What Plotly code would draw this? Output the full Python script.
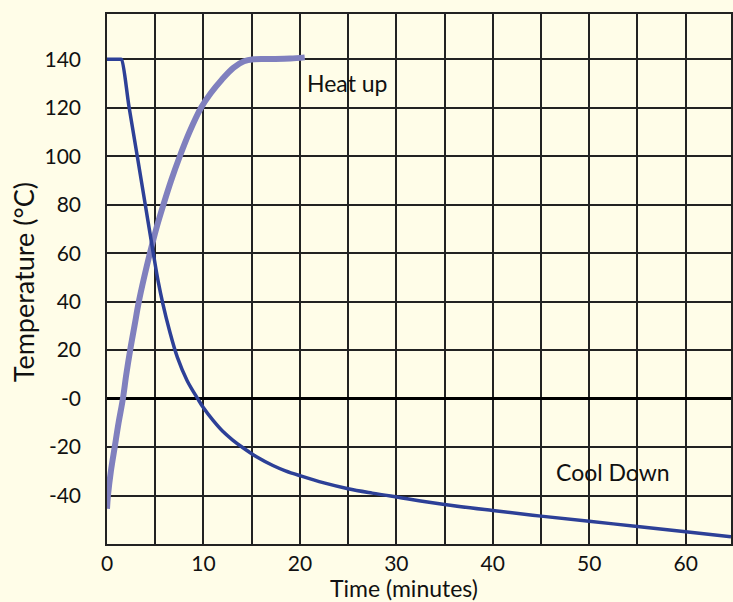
import plotly.graph_objects as go

# Heat up curve (minutes, °C)
heat_x = [0, 0.1, 0.4, 0.8, 1.2, 1.65, 2.0, 2.4, 2.85, 3.3, 3.85, 4.45, 5.1, 5.85,
          6.65, 7.55, 8.55, 9.75, 10.75, 11.9, 13.1, 14.2, 15.2, 17.0, 19.0, 20.5]
heat_y = [-45.5, -40, -30, -20, -10, 0, 10, 20, 30, 40, 50, 60, 70, 80,
          90, 100, 110, 120, 126, 131.6, 136.5, 139.2, 140, 140.1, 140.3, 140.8]

# Cool down curve (minutes, °C)
cool_x = [0, 1.4, 1.5, 2.3, 3.14, 3.97, 4.8, 5.3, 5.8, 6.45, 7.3, 8.3, 9.4, 10.0, 11.0,
          12.0, 13.0, 14.1, 15.5, 17.2, 18.5, 20.0, 22.5, 25.0, 27.5, 30.0, 35.0,
          40.0, 45.0, 50.0, 55.0, 60.0, 64.7]
cool_y = [140, 140, 140, 120, 100, 80, 60, 48.5, 39, 28.5, 17, 7.5, 0, -3.8, -9,
          -13.5, -17, -20.3, -24, -27.6, -29.8, -31.8, -34.8, -37.2, -39, -40.6, -43.7,
          -46.2, -48.5, -50.6, -52.8, -54.9, -57]

x_tickvals = [0, 5, 10, 15, 20, 25, 30, 35, 40, 45, 50, 55, 60]
x_ticktext = ["0", "", "10", "", "20", "", "30", "", "40", "", "50", "", "60"]
y_tickvals = [-40, -20, 0, 20, 40, 60, 80, 100, 120, 140]
y_ticktext = ["-40", "-20", "-0", "20", "40", "60", "80", "100", "120", "140"]

BG = "#FFFDE8"
GRID = "#222222"
FONT = "Lato"

fig = go.Figure()
fig.add_trace(go.Scatter(x=heat_x, y=heat_y, mode="lines",
                         line=dict(color="#8080BE", width=6, shape="spline", smoothing=1.0),
                         showlegend=False))
fig.add_trace(go.Scatter(x=cool_x, y=cool_y, mode="lines",
                         line=dict(color="#2D4097", width=3.5, shape="spline", smoothing=1.0),
                         showlegend=False))

fig.update_layout(
    width=733, height=602,
    margin=dict(l=107, r=0, t=14, b=58),
    paper_bgcolor=BG, plot_bgcolor=BG,
    font=dict(family=FONT, size=21, color="#111111"),
    xaxis=dict(range=[0, 64.7], tickvals=x_tickvals, ticktext=x_ticktext,
               showgrid=True, gridcolor=GRID, gridwidth=1.5,
               showline=True, linecolor=GRID, linewidth=1.5, mirror=True,
               zeroline=False, ticks="", ticklabelstandoff=0,
               tickfont=dict(size=21)),
    yaxis=dict(range=[-60, 158.7], tickvals=y_tickvals, ticktext=y_ticktext,
               showgrid=True, gridcolor=GRID, gridwidth=1.5,
               showline=True, linecolor=GRID, linewidth=1.5, mirror=True,
               zeroline=True, zerolinecolor="#000000", zerolinewidth=2.5,
               ticks="", ticklabelstandoff=20,
               tickfont=dict(size=21)),
    annotations=[
        dict(text="Temperature (°C)", xref="paper", yref="paper",
             x=(23 - 107) / 626, y=(544 - 282) / 530, textangle=-90,
             showarrow=False, font=dict(size=27), xanchor="center", yanchor="middle"),
        dict(text="Time (minutes)", xref="paper", yref="paper",
             x=(405 - 107) / 626, y=(544 - 588) / 530,
             showarrow=False, font=dict(size=23), xanchor="center", yanchor="middle"),
        dict(text="Heat up", x=24.9, y=130.2, showarrow=False,
             font=dict(size=23), xanchor="center", yanchor="middle"),
        dict(text="Cool Down", x=52.5, y=-30.2, showarrow=False,
             font=dict(size=23), xanchor="center", yanchor="middle"),
    ],
)

fig.write_html("out.html", config={"displayModeBar": False},
               post_script="document.body.style.margin='0';")
